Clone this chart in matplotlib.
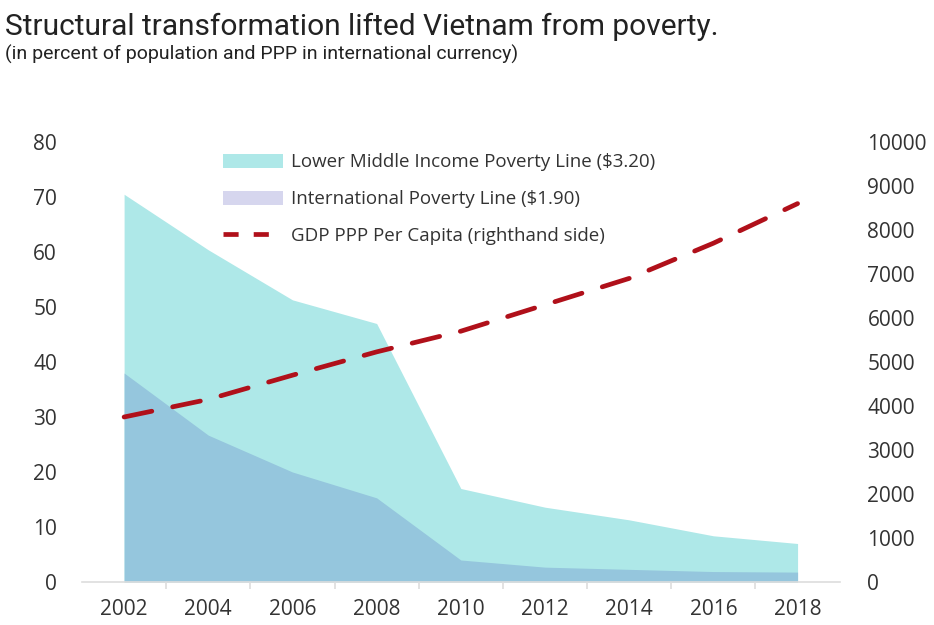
import matplotlib.pyplot as plt
from matplotlib.patches import Patch
from matplotlib.lines import Line2D

plt.rcParams['font.family'] = ['Open Sans', 'DejaVu Sans']

years = [2002, 2004, 2006, 2008, 2010, 2012, 2014, 2016, 2018]
lmic_line = [70.5, 60.4, 51.3, 47.0, 17.0, 13.6, 11.3, 8.4, 7.0]
intl_line = [38.0, 26.7, 20.0, 15.3, 4.0, 2.7, 2.3, 1.9, 1.8]
gdp_ppp = [3750, 4150, 4700, 5230, 5700, 6300, 6900, 7700, 8600]

xtick_years = [2002, 2004, 2006, 2008, 2010, 2012, 2014, 2016, 2018]
minor_years = [2003, 2005, 2007, 2009, 2011, 2013, 2015, 2017]

cyan = '#aee8e8'
blue = '#95c6dd'
lavender = '#d6d6ee'
red = '#b0101a'
txt = '#333333'

fig = plt.figure(figsize=(9.34, 6.25), dpi=100)
ax = fig.add_axes([0.0878, 0.0688, 0.8112, 0.704])
ax2 = ax.twinx()

ax.fill_between(years, 0, lmic_line, color=cyan, lw=0)
ax.fill_between(years, 0, intl_line, color=blue, lw=0)
ax2.plot(years, gdp_ppp, color=red, lw=3.4, dashes=(6, 4.5), dash_capstyle='round')

ax.set_xlim(2001, 2019)
ax.set_ylim(0, 80)
ax2.set_ylim(0, 10000)
ax.set_yticks(range(0, 81, 10))
ax2.set_yticks(range(0, 10001, 1000))
ax.set_xticks(xtick_years)
ax.set_xticks(minor_years, minor=True)

for a in (ax, ax2):
    for s in a.spines.values():
        s.set_visible(False)
ax.spines['bottom'].set_visible(True)
ax.spines['bottom'].set_color('#dddddd')
ax.spines['bottom'].set_linewidth(1.2)

ax.tick_params(axis='x', which='major', length=0, pad=12, labelsize=15, labelcolor=txt)
ax.tick_params(axis='x', which='minor', length=5, color='#dddddd', width=1.2)
ax.tick_params(axis='y', length=0, pad=18, labelsize=15, labelcolor=txt)
ax2.tick_params(axis='y', length=0, pad=20, labelsize=15, labelcolor=txt)

handles = [Patch(color=cyan, lw=0),
           Patch(color=lavender, lw=0),
           Line2D([0], [0], color=red, lw=3.4, dashes=(3.2, 3.2))]
labels = ['Lower Middle Income Poverty Line ($3.20)',
          'International Poverty Line ($1.90)',
          'GDP PPP Per Capita (righthand side)']
leg = ax.legend(handles, labels, loc='upper left', bbox_to_anchor=(0.186, 0.974),
                frameon=False, fontsize=13.5, handlelength=3.2, handleheight=0.75,
                handletextpad=0.45, labelspacing=1.0, borderaxespad=0, borderpad=0)
for t in leg.get_texts():
    t.set_color(txt)

fig.text(0.005, 0.944, 'Structural transformation lifted Vietnam from poverty.',
         fontsize=21.5, color='#222222', va='baseline', family=['Roboto', 'DejaVu Sans'])
fig.text(0.005, 0.904, '(in percent of population and PPP in international currency)',
         fontsize=14, color='#222222', va='baseline', family=['Roboto', 'DejaVu Sans'])

fig.savefig('out.png', dpi=100)
